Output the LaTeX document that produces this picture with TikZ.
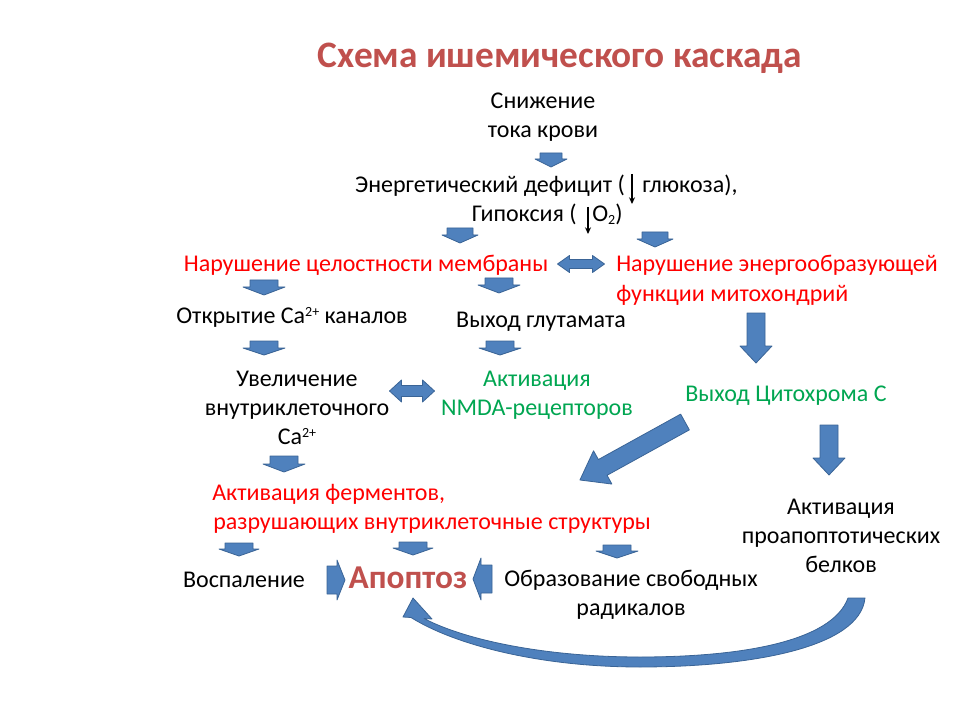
\documentclass[tikz,border=0pt]{standalone}
\usepackage{fontspec}
\setmainfont{Carlito}
\usetikzlibrary{arrows.meta}
\definecolor{ttl}{HTML}{C0504D}
\definecolor{rd}{HTML}{FF0000}
\definecolor{gr}{HTML}{00A651}
\definecolor{afill}{HTML}{4F81BD}
\definecolor{aline}{HTML}{3A6496}
\newcommand\mysup[1]{\raisebox{4.6pt}{\fontsize{10.5}{10.5}\selectfont #1}}
\newcommand\mysub[1]{\raisebox{-2.2pt}{\fontsize{10.5}{10.5}\selectfont #1}}
\tikzset{
  txt/.style={font=\fontsize{18}{21.75}\selectfont, inner sep=0pt, anchor=base},
  txtw/.style={txt, anchor=base west},
  txte/.style={txt, anchor=base east},
  red/.style={text=rd},
  grn/.style={text=gr},
  ttlstyle/.style={font=\fontsize{28}{33}\selectfont\bfseries, text=ttl, inner sep=0pt, anchor=base},
  apstyle/.style={font=\fontsize{25}{30}\selectfont\bfseries, text=ttl, inner sep=0pt, anchor=base},
  blk/.style={fill=afill, draw=aline, line width=0.6pt, line join=round},
  thin/.style={draw=black, line width=0.9pt, -{Stealth[length=5pt,width=4.5pt]}},
}
% tail x, tail y, angle, length, shaft half width, head half width, head length
\newcommand\BlkArr[7]{%
  \begin{scope}[shift={(#1,#2)}, rotate=#3]
    \draw[blk] (0,-#5) -- ({#4-#7},-#5) -- ({#4-#7},-#6) -- (#4,0) -- ({#4-#7},#6) -- ({#4-#7},#5) -- (0,#5) -- cycle;
  \end{scope}}
% centre x, centre y, length, shaft half width, head half width, head length
\newcommand\DblArr[6]{%
  \begin{scope}[shift={(#1,#2)}]
    \draw[blk] ({-#3/2},0) -- ({-#3/2+#6},-#5) -- ({-#3/2+#6},-#4) -- ({#3/2-#6},-#4) -- ({#3/2-#6},-#5) -- ({#3/2},0)
      -- ({#3/2-#6},#5) -- ({#3/2-#6},#4) -- ({-#3/2+#6},#4) -- ({-#3/2+#6},#5) -- cycle;
  \end{scope}}
\begin{document}
\begin{tikzpicture}[x=0.75pt,y=-0.75pt]
\useasboundingbox (0,0) rectangle (960,720);
\fill[white] (0,0) rectangle (960,720);

% title
\node[ttlstyle] (title) at (560,68) {Схема ишемического каскада};

% texts
\node[txt] (s1) at (543,109) {Снижение};
\node[txt] (s2) at (543,138) {тока крови};
\node[txte] (e1) at (625,193) {Энергетический дефицит (};
\node[txtw] (e2) at (642,193) {глюкоза),};
\node[txte] (g1) at (577,222) {Гипоксия (};
\node[txtw] (g2) at (592,222) {O\mysub{2})};
\coordinate (t1a) at (632,174);
\coordinate (t1b) at (632,204);
\coordinate (t2a) at (588,207);
\coordinate (t2b) at (588,234);
\draw[thin] (t1a) -- (t1b);
\draw[thin] (t2a) -- (t2b);

\node[txt,red] (m1) at (366,272) {Нарушение целостности мембраны};
\node[txtw,red] (m2) at (616,272) {Нарушение энергообразующей};
\node[txtw,red] (m3) at (616,301) {функции митохондрий};

\node[txt] (o1) at (292,323) {Открытие Ca\mysup{2+} каналов};
\node[txt] (v1) at (541,327) {Выход глутамата};

\node[txt] (u1) at (297,386) {Увеличение};
\node[txt] (u2) at (297,415) {внутриклеточного};
\node[txt] (u3) at (297,444) {Ca\mysup{2+}};
\node[txt,grn] (n1) at (537,386) {Активация};
\node[txt,grn] (n2) at (537,415) {NMDA-рецепторов};
\node[txt,grn] (c1) at (786,401) {Выход Цитохрома С};

\node[txtw,red] (f1) at (212,500) {Активация ферментов,};
\node[txtw,red] (f2) at (213,529) {разрушающих внутриклеточные структуры};

\node[txt] (p1) at (841,514) {Активация};
\node[txt] (p2) at (841,543) {проапоптотических};
\node[txt] (p3) at (841,572) {белков};

\node[txt] (b1) at (244,587) {Воспаление};
\node[apstyle] (ap) at (408,588) {Апоптоз};
\node[txt] (r1) at (631,586) {Образование свободных};
\node[txt] (r2) at (631,615) {радикалов};

% block arrows (down)
\BlkArr{551}{153}{-90}{14}{11}{16}{8}
\BlkArr{460}{228}{-90}{15}{13}{18}{8}
\BlkArr{655}{232}{-90}{15}{13}{18}{8}
\BlkArr{264}{280}{-90}{15}{14}{21}{8}
\BlkArr{499}{278}{-90}{15}{14}{21}{8}
\BlkArr{264}{341}{-90}{14}{14}{21}{7}
\BlkArr{500}{341}{-90}{14}{14}{21}{7}
\BlkArr{756}{313}{-90}{50}{9}{16}{17}
\BlkArr{284}{456}{-90}{16}{14}{21}{8}
\BlkArr{829}{425}{-90}{50}{9}{16}{17}
\BlkArr{239}{543}{-90}{13}{14}{20}{7}
\BlkArr{413}{542}{-90}{13}{14}{20}{7}
\BlkArr{617}{545}{-90}{13}{14}{21}{7}
% diagonal
\BlkArr{685}{422}{208.9}{120}{9}{19}{26}
% side arrows to Apoptosis
\BlkArr{327}{580}{0}{18}{14}{20}{8}
\BlkArr{492}{579}{180}{19}{14}{21}{8}
% double arrows
\DblArr{581}{264}{47}{4.5}{8.5}{12}
\DblArr{412}{391}{45}{5.5}{11}{12}

% curved arrow
\draw[blk] (865,598) .. controls (860,648) and (750,667) .. (640,667)
  .. controls (540,667) and (455,645) .. (411,617.5)
  -- (403,617) -- (413,598) -- (432,619) -- (424,618.5)
  .. controls (465,640) and (545,657) .. (640,657)
  .. controls (740,657) and (832,642) .. (848,598) -- cycle;
\end{tikzpicture}
\end{document}
